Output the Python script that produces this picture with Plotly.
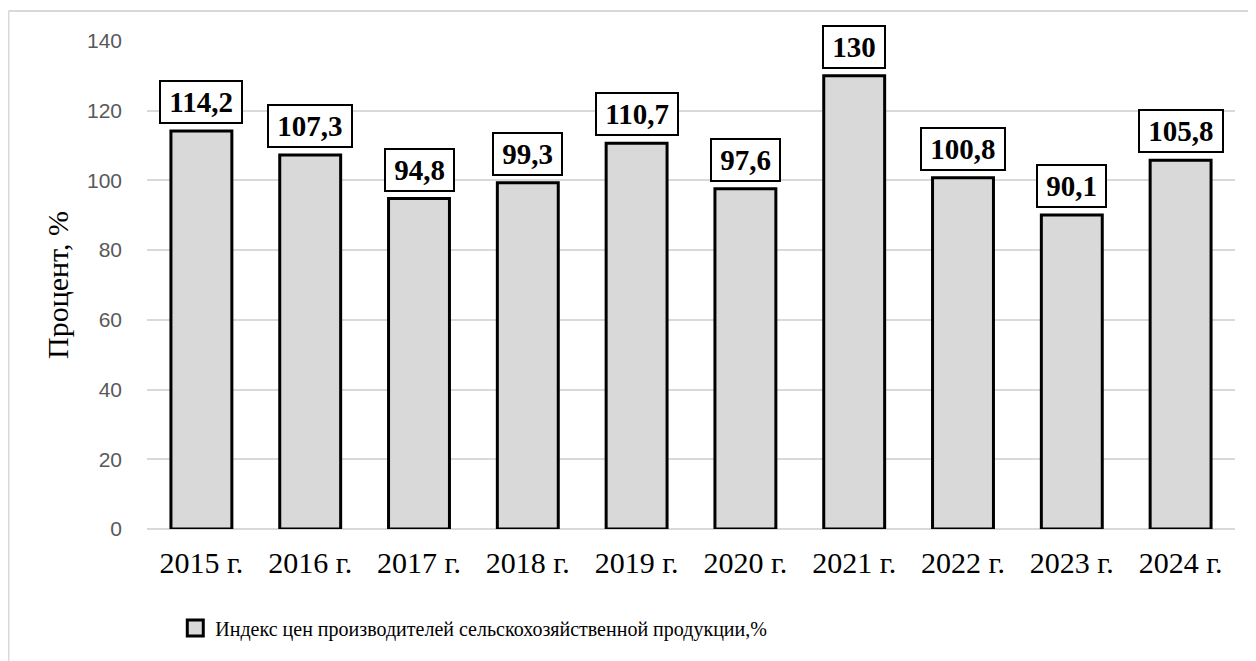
import plotly.graph_objects as go

years = ["2015 г.", "2016 г.", "2017 г.", "2018 г.", "2019 г.",
         "2020 г.", "2021 г.", "2022 г.", "2023 г.", "2024 г."]
index_values = [114.2, 107.3, 94.8, 99.3, 110.7, 97.6, 130, 100.8, 90.1, 105.8]
series_name = "Индекс цен производителей сельскохозяйственной продукции,%"
y_ticks = [0, 20, 40, 60, 80, 100, 120, 140]

SERIF = "Liberation Serif"
SANS = "Liberation Sans"
GRID = "#d9d9d9"
BAR_FILL = "#d9d9d9"


def fmt(v: float) -> str:
    if float(v).is_integer():
        return str(int(v))
    return f"{v:.1f}".replace(".", ",")


fig = go.Figure()
fig.add_trace(
    go.Bar(
        x=years,
        y=index_values,
        name=series_name,
        width=0.56,
        marker=dict(color=BAR_FILL, line=dict(color="black", width=3)),
        showlegend=False,
    )
)
# legend entry drawn as a bigger square than plotly's default bar swatch
fig.add_trace(
    go.Scatter(
        x=[years[0]],
        y=[None],
        mode="markers",
        name=series_name,
        marker=dict(symbol="square", size=16, color=BAR_FILL,
                    line=dict(color="black", width=3)),
        showlegend=True,
        hoverinfo="skip",
    )
)

for yr, v in zip(years, index_values):
    fig.add_annotation(
        x=yr,
        y=v,
        text=f" {fmt(v)} ",
        showarrow=False,
        yanchor="bottom",
        yshift=7,
        height=38,
        font=dict(family=SERIF, size=29, color="black", weight="bold"),
        bgcolor="white",
        bordercolor="black",
        borderwidth=2,
        borderpad=1,
    )

# outer chart frame (only top and left edges are visible)
fig.add_shape(type="line", xref="paper", yref="paper",
              x0=-0.1273, x1=1.03, y0=1.0615, y1=1.0615,
              line=dict(color=GRID, width=2))
fig.add_shape(type="line", xref="paper", yref="paper",
              x0=-0.1273, x1=-0.1273, y0=1.0615, y1=-0.3,
              line=dict(color=GRID, width=2))

fig.update_layout(
    width=1256,
    height=661,
    margin=dict(l=139, r=29, t=33, b=140, autoexpand=False),
    plot_bgcolor="white",
    paper_bgcolor="white",
    showlegend=True,
    legend=dict(
        orientation="h",
        x=0.026,
        xanchor="left",
        y=-0.203,
        yanchor="middle",
        font=dict(family=SERIF, size=20, color="black"),
    ),
    xaxis=dict(
        range=[-0.5, len(years) - 0.5],
        tickfont=dict(family=SERIF, size=30, color="black"),
        showgrid=False,
        showline=False,
        ticks="",
        ticklabelstandoff=13,
    ),
    yaxis=dict(
        range=[0, 140],
        tickvals=y_ticks,
        tickfont=dict(family=SANS, size=21, color="#595959"),
        gridcolor=GRID,
        gridwidth=1.5,
        zeroline=True,
        zerolinecolor=GRID,
        zerolinewidth=1.5,
        showline=False,
        ticks="",
        ticklabelstandoff=24,
        title=dict(text="Процент, %", font=dict(family=SERIF, size=30, color="black"),
                   standoff=9),
    ),
)

fig.write_html("out.html")
